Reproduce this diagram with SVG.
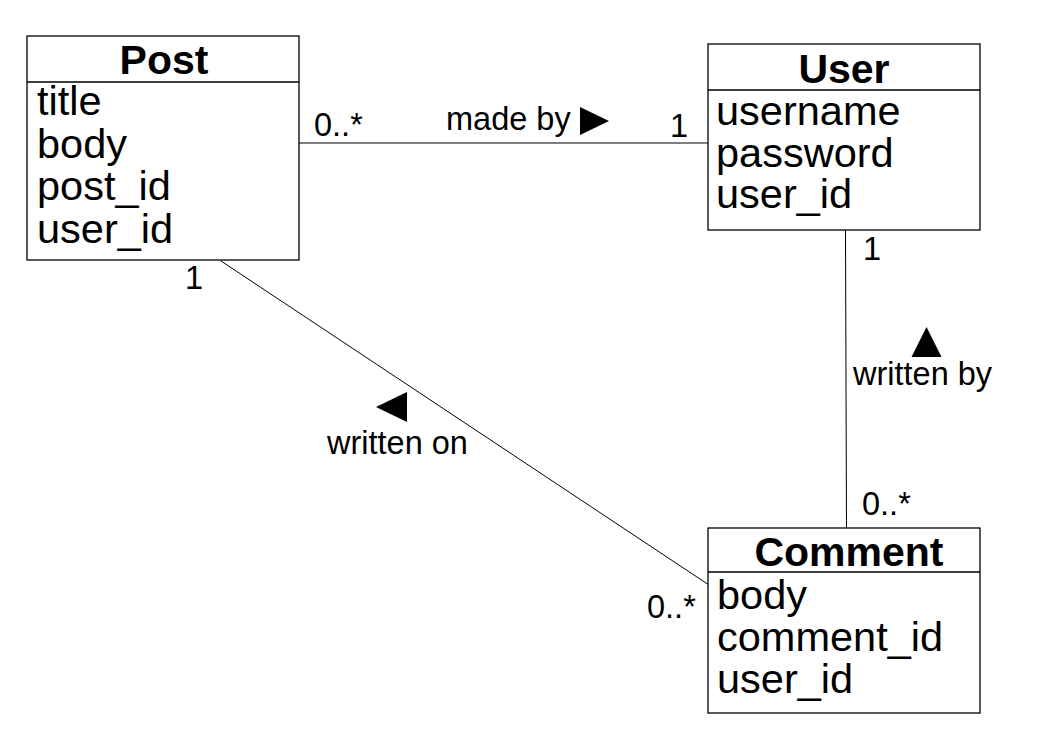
<svg xmlns="http://www.w3.org/2000/svg" width="1048" height="754" viewBox="0 0 1048 754">
<style>
.box{fill:#fff;stroke:#000;stroke-width:1.3}
.div{stroke:#000;stroke-width:1.3}
.title{font-family:"Liberation Sans",Arial,sans-serif;font-weight:bold;font-size:41px;text-anchor:middle;fill:#000}
.attr{font-family:"Liberation Sans",Arial,sans-serif;font-size:41.5px;fill:#000}
.lbl{font-family:"Liberation Sans",Arial,sans-serif;font-size:32.5px;fill:#000}
.conn{stroke:#000;stroke-width:1;fill:none}
.tri{fill:#000}
</style>
<rect width="1048" height="754" fill="#fff"/>
<g id="connectors">
<line class="conn" x1="299" y1="143" x2="708" y2="143"/>
<line class="conn" x1="845.5" y1="230" x2="846.5" y2="528"/>
<line class="conn" x1="221" y1="261" x2="709" y2="585"/>
<text class="lbl" x="314" y="136">0..*</text>
<text class="lbl" x="446" y="130">made by</text>
<polygon class="tri" points="580,107 609,121 580,135"/>
<text class="lbl" x="670" y="137">1</text>
<text class="lbl" x="863" y="260">1</text>
<polygon class="tri" points="926.5,327 941.5,357 911.5,357"/>
<text class="lbl" x="853" y="385">written by</text>
<text class="lbl" x="862" y="515">0..*</text>
<text class="lbl" x="185" y="289">1</text>
<polygon class="tri" points="376,407 407,392 407,422"/>
<text class="lbl" x="327" y="454">written on</text>
<text class="lbl" x="647" y="618">0..*</text>
</g>
<g id="post">
<rect class="box" x="27" y="36" width="272" height="224"/>
<line class="div" x1="27" y1="82" x2="299" y2="82"/>
<text class="title" x="164" y="74">Post</text>
<text class="attr" x="37" y="115">title</text>
<text class="attr" x="37" y="157.5">body</text>
<text class="attr" x="37" y="200">post_id</text>
<text class="attr" x="37" y="242.5">user_id</text>
</g>
<g id="user">
<rect class="box" x="708" y="44" width="272" height="186"/>
<line class="div" x1="708" y1="90" x2="980" y2="90"/>
<text class="title" x="844" y="83">User</text>
<text class="attr" x="716" y="125">username</text>
<text class="attr" x="716" y="166.5">password</text>
<text class="attr" x="716" y="208">user_id</text>
</g>
<g id="comment">
<rect class="box" x="708" y="528" width="272" height="185"/>
<line class="div" x1="708" y1="572" x2="980" y2="572"/>
<text class="title" x="849" y="565.5">Comment</text>
<text class="attr" x="717" y="609">body</text>
<text class="attr" x="717" y="651">comment_id</text>
<text class="attr" x="717" y="692.5">user_id</text>
</g>
</svg>
